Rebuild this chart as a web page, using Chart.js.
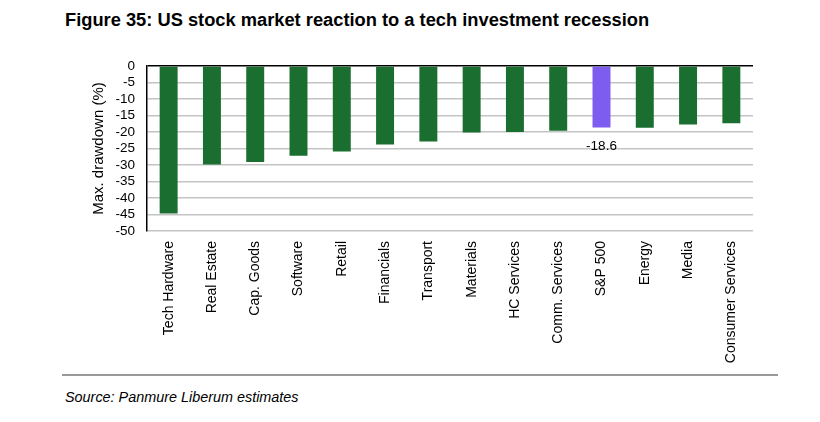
<!DOCTYPE html>
<html lang="en">
<head>
  <meta charset="UTF-8" />
  <title>Figure 35</title>
  <script src="https://cdn.jsdelivr.net/npm/chart.js"></script>
  <style>
    body {
      margin: 0;
      background: #fff;
      width: 820px;
      height: 422px;
      position: relative;
      overflow: hidden;
      font-family: 'Liberation Sans', Arial, sans-serif;
    }
    .title {
      position: absolute;
      left: 65px;
      top: 9px;
      font-size: 18.3px;
      font-weight: bold;
      color: #000;
    }
    .chart-box {
      position: absolute;
      left: 90px;
      top: 46px;
      width: 680px;
      height: 324px;
    }
    .rule {
      position: absolute;
      left: 62px;
      top: 374px;
      width: 716px;
      height: 2px;
      background: #9a9a9a;
    }
    .source {
      position: absolute;
      left: 65px;
      top: 389px;
      font-size: 14.4px;
      font-style: italic;
      color: #000;
    }
  </style>
</head>
<body>
  <div class="title">Figure 35: US stock market reaction to a tech investment recession</div>
  <div class="chart-box"><canvas id="chart"></canvas></div>
  <div class="rule"></div>
  <div class="source">Source: Panmure Liberum estimates</div>

  <script>
    // Sectors and max drawdown (%)
    const sectors = ['Tech Hardware', 'Real Estate', 'Cap. Goods', 'Software', 'Retail', 'Financials',
      'Transport', 'Materials', 'HC Services', 'Comm. Services', 'S&P 500', 'Energy', 'Media', 'Consumer Services'];
    const drawdown = [-44.7, -29.8, -29.1, -27.2, -25.9, -23.8, -22.9, -20.1, -20.0, -19.6, -18.6, -18.7, -17.7, -17.3];
    const highlight = 'S&P 500';
    const yTicks = [0, -5, -10, -15, -20, -25, -30, -35, -40, -45, -50];

    const green = '#1a6e2f';
    const purple = '#7d5cf0';

    // label under the highlighted bar
    const valueLabel = {
      id: 'valueLabel',
      afterDatasetsDraw(chart) {
        const meta = chart.getDatasetMeta(0);
        const i = sectors.indexOf(highlight);
        const bar = meta.data[i];
        const ctx = chart.ctx;
        ctx.save();
        ctx.font = '13.5px "Liberation Sans", Arial, sans-serif';
        ctx.fillStyle = '#000';
        ctx.textAlign = 'center';
        ctx.textBaseline = 'middle';
        ctx.fillText(drawdown[i].toFixed(1), bar.x, bar.y + 19);
        ctx.restore();
      }
    };

    new Chart(document.getElementById('chart'), {
      type: 'bar',
      data: {
        labels: sectors,
        datasets: [{
          data: drawdown,
          backgroundColor: sectors.map(s => s === highlight ? purple : green),
          barPercentage: 0.5,
          categoryPercentage: 0.83
        }]
      },
      options: {
        responsive: true,
        maintainAspectRatio: false,
        animation: false,
        layout: { padding: { top: 4, right: 17, left: 0, bottom: 0 } },
        plugins: {
          legend: { display: false },
          tooltip: { enabled: false }
        },
        scales: {
          x: {
            grid: { display: false },
            border: { display: false },
            ticks: {
              color: '#000',
              font: { size: 14, family: '"Liberation Sans", Arial, sans-serif' },
              minRotation: 90,
              maxRotation: 90,
              autoSkip: false,
              padding: 2
            },
            afterFit(scale) { scale.height = 139; }
          },
          y: {
            min: -50,
            max: 0,
            afterBuildTicks(scale) { scale.ticks = yTicks.map(v => ({ value: v })); },
            border: { display: true, color: '#000', width: 1.5 },
            grid: {
              drawTicks: false,
              color: ctx => ctx.tick && ctx.tick.value === 0 ? '#000' : '#c4c4c4',
              lineWidth: 1.5
            },
            ticks: {
              color: '#000',
              font: { size: 13.5, family: '"Liberation Sans", Arial, sans-serif' },
              autoSkip: false,
              padding: 12
            },
            title: {
              display: true,
              text: 'Max. drawdown (%)',
              color: '#000',
              font: { size: 15, family: '"Liberation Sans", Arial, sans-serif' },
              padding: { top: 0, bottom: 0 }
            },
            afterFit(scale) { scale.width = 57; }
          }
        }
      },
      plugins: [valueLabel]
    });
  </script>
</body>
</html>
